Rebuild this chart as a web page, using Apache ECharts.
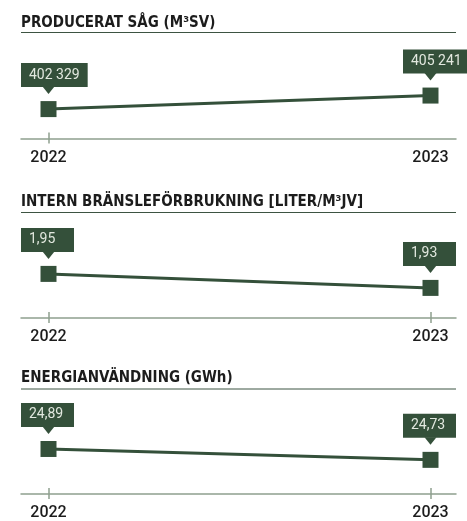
<!DOCTYPE html>
<html>
<head>
<meta charset="utf-8">
<script src="https://cdn.jsdelivr.net/npm/echarts@6/dist/echarts.min.js"></script>
<style>
  html, body { margin: 0; padding: 0; background: #ffffff; }
  #chart { width: 467px; height: 521px; }
</style>
</head>
<body>
<div id="chart"></div>
<script>
// ---- data ----
const years = [2022, 2023];
const titles = [
  'PRODUCERAT SÅG (M³SV)',
  'INTERN BRÄNSLEFÖRBRUKNING [LITER/M³JV]',
  'ENERGIANVÄNDNING (GWh)'
];
const produceratSag = [402329, 405241];
const bransleforbrukning = [1.95, 1.93];
const energianvandning = [24.89, 24.73];
const decimals = [0, 2, 2];
const panelValues = [produceratSag, bransleforbrukning, energianvandning];

// ---- style / layout ----
const GREEN = '#34503a';
const AXIS = '#8fa08e';
const TEXT = '#1c1c1c';
const W = 467, H = 521;
const panels = [
  { titleTop: 15.5, rule: 32.5, top: 40, axisY: 138.5, ymin: 396000, ymax: 417200, ticks: [2022] },
  { titleTop: 195, rule: 212.5, top: 220, axisY: 318, ymin: 1.887, ymax: 2.027, ticks: [2022, 2023] },
  { titleTop: 371, rule: 389, top: 397, axisY: 495, ymin: 24.228, ymax: 25.654, ticks: [2022, 2023] }
];
const gridLeft = 21, gridRight = 11;
const xMin = 2022 - 27.5 / 382, xMax = 2023 + 25.5 / 382;

function fmt(v, d) {
  let s = v.toFixed(d);
  let [ip, dp] = s.split('.');
  ip = ip.replace(/\B(?=(\d{3})+(?!\d))/g, ' ');
  return dp ? ip + ',' + dp : ip;
}

const measureCtx = document.createElement('canvas').getContext('2d');
const LABEL_FONT = '14px Roboto';
function textWidth(t) {
  measureCtx.font = LABEL_FONT;
  return measureCtx.measureText(t).width;
}

const grid = [], xAxis = [], yAxis = [], series = [], title = [], graphic = [];

panels.forEach((p, i) => {
  grid.push({ left: gridLeft, right: gridRight, top: p.top, bottom: H - p.axisY });
  // main x axis: line, outside ticks, labels
  xAxis.push({
    type: 'value', gridIndex: i, min: xMin, max: xMax, position: 'bottom',
    axisLine: { show: true, lineStyle: { color: AXIS, width: 1.5 } },
    axisTick: { show: true, length: 5, inside: false, customValues: p.ticks, lineStyle: { color: AXIS, width: 1.5 } },
    axisLabel: {
      show: true, customValues: years, margin: 11,
      formatter: v => String(Math.round(v)),
      color: TEXT, fontFamily: 'Roboto', fontSize: 16, fontWeight: 500
    },
    splitLine: { show: false }
  });
  // second x axis: inside ticks only (so the ticks cross the axis line)
  xAxis.push({
    type: 'value', gridIndex: i, min: xMin, max: xMax, position: 'bottom',
    axisLine: { show: false },
    axisTick: { show: true, length: 6, inside: true, customValues: p.ticks, lineStyle: { color: AXIS, width: 1.5 } },
    axisLabel: { show: false },
    splitLine: { show: false }
  });
  yAxis.push({ type: 'value', gridIndex: i, min: p.ymin, max: p.ymax, show: false });

  const vals = panelValues[i];
  const data = years.map((y, k) => [y, vals[k]]);
  series.push({
    type: 'line', xAxisIndex: i * 2, yAxisIndex: i, data: data,
    symbol: 'rect', symbolSize: 16,
    itemStyle: { color: GREEN },
    lineStyle: { color: GREEN, width: 3 },
    silent: true, animation: false, z: 3
  });
  const d = decimals[i];
  series.push({
    type: 'custom', xAxisIndex: i * 2, yAxisIndex: i, data: data, clip: false, z: 4,
    animation: false, silent: true,
    renderItem: (params, api) => {
      const pt = api.coord([api.value(0), api.value(1)]);
      const x = pt[0], y = pt[1];
      const tipY = y - 15;
      const boxBottom = tipY - 7;
      const boxH = 24;
      const txt = fmt(api.value(1), d);
      const bw = Math.max(textWidth(txt) + 16, 53);
      const bx = x - 27.5;
      return {
        type: 'group',
        children: [
          { type: 'rect', shape: { x: bx, y: boxBottom - boxH, width: bw, height: boxH }, style: { fill: GREEN } },
          { type: 'polygon', shape: { points: [[x - 6, boxBottom - 0.5], [x + 6, boxBottom - 0.5], [x, tipY]] }, style: { fill: GREEN } },
          { type: 'text', x: bx + 8, y: boxBottom - boxH / 2,
            style: { text: txt, font: LABEL_FONT, fill: '#e2e8df', align: 'left', verticalAlign: 'middle' } }
        ]
      };
    }
  });

  title.push({
    text: titles[i], left: 21, top: p.titleTop, padding: 0,
    textStyle: { fontFamily: '"DejaVu Sans Condensed", "DejaVu Sans", Roboto, sans-serif', fontWeight: 'bold', fontSize: 15, lineHeight: 15, color: TEXT }
  });
  graphic.push({
    type: 'line', silent: true,
    shape: { x1: gridLeft, y1: p.rule, x2: W - gridRight, y2: p.rule },
    style: { stroke: '#3d5442', lineWidth: 1 }
  });
});

const chart = echarts.init(document.getElementById('chart'), null, { renderer: 'canvas' });
chart.setOption({
  animation: false,
  backgroundColor: '#ffffff',
  title: title,
  grid: grid,
  xAxis: xAxis,
  yAxis: yAxis,
  series: series,
  graphic: graphic
});
</script>
</body>
</html>
